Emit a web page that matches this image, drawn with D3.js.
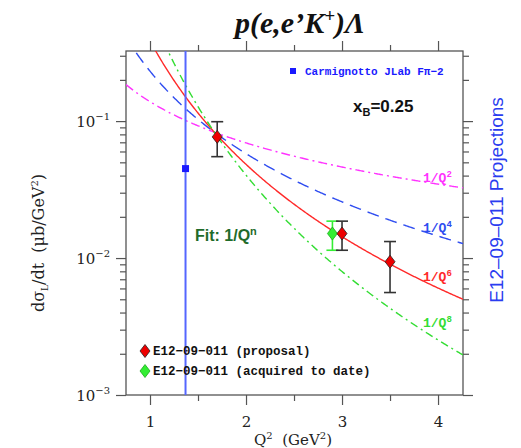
<!DOCTYPE html>
<html>
<head>
<meta charset="utf-8">
<script src="https://cdn.jsdelivr.net/npm/d3@7"></script>
<style>
  body { margin: 0; background: #fff; }
  .tick text { font-family: "DejaVu Serif", serif; font-size: 15px; fill: #222; }
  .tick line { stroke: #555; stroke-width: 1.2; }
</style>
</head>
<body>
<div class="container"></div>
<script>
// data
const proposalQ2 = [1.7, 3.0, 3.5];
const proposalXs = [0.0767, 0.0151, 0.0094];
const proposalLo = [0.0550, 0.0114, 0.0056];
const proposalHi = [0.0990, 0.0186, 0.0132];

const acquiredQ2 = [2.9];
const acquiredXs = [0.0151];
const acquiredLo = [0.0114];
const acquiredHi = [0.0186];

const carmQ2 = [1.37];
const carmXs = [0.045];

// 1/Q^n fits, normalised at a common point
const fitN = [2, 4, 6, 8];
const fitNormQ2 = 1.67;
const fitNormXs = 0.083;

const xTicks = [1, 2, 3, 4];
const xMinor = [1.5, 2.5, 3.5];
const yDecades = [1e-3, 1e-2, 1e-1];
const yMinor = [2, 3, 4, 5, 6, 7, 8, 9].map((m) => m * 1e-3)
  .concat([2, 3, 4, 5, 6, 7, 8, 9].map((m) => m * 1e-2))
  .concat([2e-1, 3e-1]);

const W = 521, H = 448;
const plot = { left: 126, right: 463, top: 51, bottom: 395 };

const svg = d3
  .select(".container")
  .append("svg")
  .attr("width", W)
  .attr("height", H);

const xScale = d3.scaleLinear().domain([0.75, 4.26]).range([plot.left, plot.right]);
const yScale = d3.scaleLog().domain([1e-3, 0.325]).range([plot.bottom, plot.top]);

svg.append("clipPath").attr("id", "clip")
  .append("rect")
  .attr("x", plot.left).attr("y", plot.top)
  .attr("width", plot.right - plot.left).attr("height", plot.bottom - plot.top);

// axes: majors + minors on all four sides, ticks pointing out
const addAxis = (axisFn, scale, vals, size, transform, labels) => {
  const ax = axisFn(scale).tickValues(vals).tickSize(size).tickPadding(8)
    .tickFormat(labels ? d3.format("d") : "");
  const g = svg.append("g").attr("transform", transform).call(ax);
  g.select(".domain").remove();
  return g;
};

addAxis(d3.axisBottom, xScale, xTicks, 10, `translate(0,${plot.bottom})`, true)
  .selectAll("text").attr("dy", "0.9em");
addAxis(d3.axisBottom, xScale, xMinor, 6, `translate(0,${plot.bottom})`, false);
addAxis(d3.axisTop, xScale, xTicks, 10, `translate(0,${plot.top})`, false);
addAxis(d3.axisTop, xScale, xMinor, 6, `translate(0,${plot.top})`, false);
addAxis(d3.axisLeft, yScale, yDecades, 10, `translate(${plot.left},0)`, false);
addAxis(d3.axisLeft, yScale, yMinor, 6, `translate(${plot.left},0)`, false);
addAxis(d3.axisRight, yScale, yDecades, 10, `translate(${plot.right},0)`, false);
addAxis(d3.axisRight, yScale, yMinor, 6, `translate(${plot.right},0)`, false);

// y decade labels 10^-n
yDecades.forEach((v) => {
  const t = svg.append("text")
    .attr("x", 110)
    .attr("y", yScale(v) + 6)
    .attr("text-anchor", "end")
    .style("font-family", "DejaVu Serif, serif")
    .style("font-size", "15px")
    .style("fill", "#222");
  t.append("tspan").text("10");
  t.append("tspan").attr("dy", -7).style("font-size", "10px")
    .text("\u2212" + Math.round(-Math.log10(v)));
});

// frame
svg.append("rect")
  .attr("x", plot.left).attr("y", plot.top)
  .attr("width", plot.right - plot.left).attr("height", plot.bottom - plot.top)
  .attr("fill", "none").attr("stroke", "#555").attr("stroke-width", 1.3);

// fit curves
const curveStyle = {
  2: { color: "#ff33ff", dash: "9,4,2,4" },
  4: { color: "#2f4df0", dash: "12,7" },
  6: { color: "#ff2a2a", dash: null },
  8: { color: "#33dd33", dash: "8,4,2,4" },
};
const qGrid = d3.range(0.75, 4.27, 0.01);
const line = d3.line().x((d) => xScale(d[0])).y((d) => yScale(d[1]));

const curves = svg.append("g").attr("clip-path", "url(#clip)");
fitN.forEach((n) => {
  const pts = qGrid.map((q) => [q, fitNormXs * Math.pow(fitNormQ2 / q, n / 2)]);
  curves.append("path")
    .datum(pts)
    .attr("d", line)
    .attr("fill", "none")
    .attr("stroke", curveStyle[n].color)
    .attr("stroke-width", 1.4)
    .attr("stroke-dasharray", curveStyle[n].dash);
});

// curve labels
const labelY = { 2: 182, 4: 232, 6: 281, 8: 327 };
fitN.forEach((n) => {
  const t = svg.append("text")
    .attr("x", 423).attr("y", labelY[n])
    .style("font-family", "Liberation Mono, monospace")
    .style("font-weight", "bold")
    .style("font-size", "13px")
    .style("fill", curveStyle[n].color);
  t.append("tspan").text("1/Q");
  t.append("tspan").attr("dy", -5).style("font-size", "9px").text(n);
});

// Carmignotto point with its (off-scale) error bar
curves.selectAll(".carm-bar")
  .data(carmQ2)
  .join("line")
  .attr("x1", (d) => xScale(d)).attr("x2", (d) => xScale(d))
  .attr("y1", plot.top).attr("y2", plot.bottom)
  .attr("stroke", "#5566ff").attr("stroke-width", 2);
svg.selectAll(".carm")
  .data(carmQ2)
  .join("rect")
  .attr("x", (d) => xScale(d) - 3.5)
  .attr("y", (d, i) => yScale(carmXs[i]) - 3.5)
  .attr("width", 7).attr("height", 7)
  .attr("fill", "#1a1aff");

const diamond = (cx, cy) =>
  `M${cx},${cy - 6.5}L${cx + 5},${cy}L${cx},${cy + 6.5}L${cx - 5},${cy}Z`;

const drawPoints = (q2, xs, lo, hi, barColor, fill) => {
  const g = svg.append("g");
  q2.forEach((q, i) => {
    const x = xScale(q);
    g.append("line")
      .attr("x1", x).attr("x2", x)
      .attr("y1", yScale(hi[i])).attr("y2", yScale(lo[i]))
      .attr("stroke", barColor).attr("stroke-width", 1.6);
    [lo[i], hi[i]].forEach((v) => {
      g.append("line")
        .attr("x1", x - 6).attr("x2", x + 6)
        .attr("y1", yScale(v)).attr("y2", yScale(v))
        .attr("stroke", barColor).attr("stroke-width", 1.6);
    });
    g.append("path")
      .attr("d", diamond(x, yScale(xs[i])))
      .attr("fill", fill)
      .attr("stroke", barColor === "#333" ? "#222" : "#1aaa1a")
      .attr("stroke-width", 0.8);
  });
};
drawPoints(acquiredQ2, acquiredXs, acquiredLo, acquiredHi, "#33ee33", "#33ee33");
drawPoints(proposalQ2, proposalXs, proposalLo, proposalHi, "#333", "#ee0000");

// legends
svg.append("rect").attr("x", 290).attr("y", 68).attr("width", 6).attr("height", 6).attr("fill", "#1a1aff");
svg.append("text")
  .attr("x", 305).attr("y", 75)
  .style("font-family", "Liberation Mono, monospace")
  .style("font-weight", "bold")
  .style("font-size", "11px")
  .style("fill", "#1a1aff")
  .text("Carmignotto JLab F\u03c0\u22122");

svg.append("path").attr("d", diamond(145, 351)).attr("fill", "#ee0000").attr("stroke", "#222").attr("stroke-width", 0.8);
svg.append("path").attr("d", diamond(145, 371)).attr("fill", "#33ee33").attr("stroke", "#1aaa1a").attr("stroke-width", 0.8);
[["E12\u221209\u2212011 (proposal)", 355], ["E12\u221209\u2212011 (acquired to date)", 375]].forEach(([s, y]) => {
  svg.append("text")
    .attr("x", 153).attr("y", y)
    .style("font-family", "Liberation Mono, monospace")
    .style("font-weight", "bold")
    .style("font-size", "12.5px")
    .style("fill", "#111")
    .text(s);
});

// x_B
const xb = svg.append("text")
  .attr("x", 353).attr("y", 112)
  .style("font-family", "Liberation Sans, Arial, sans-serif")
  .style("font-weight", "bold")
  .style("font-size", "17px")
  .style("fill", "#111");
xb.append("tspan").text("x");
xb.append("tspan").attr("dy", 4).style("font-size", "11px").text("B");
xb.append("tspan").attr("dy", -4).text("=0.25");

// fit note
const fit = svg.append("text")
  .attr("x", 195).attr("y", 241)
  .style("font-family", "Liberation Sans, Arial, sans-serif")
  .style("font-weight", "bold")
  .style("font-size", "16px")
  .style("fill", "#1f6b2a");
fit.append("tspan").text("Fit: 1/Q");
fit.append("tspan").attr("dy", -6).style("font-size", "11px").text("n");

// title
const title = svg.append("text")
  .attr("x", 300).attr("y", 33)
  .attr("text-anchor", "middle")
  .style("font-family", "Liberation Serif, Times New Roman, serif")
  .style("font-weight", "bold")
  .style("font-style", "italic")
  .style("font-size", "30px")
  .style("fill", "#111");
title.append("tspan").text("p(e,e\u2019K");
title.append("tspan").attr("dy", -11).style("font-size", "19px").text("+");
title.append("tspan").attr("dy", 11).text(")\u039b");

// axis titles
const xl = svg.append("text")
  .attr("x", 293).attr("y", 445)
  .attr("text-anchor", "middle")
  .attr("xml:space", "preserve")
  .style("font-family", "DejaVu Serif, serif")
  .style("font-size", "15px")
  .style("fill", "#222");
xl.append("tspan").text("Q");
xl.append("tspan").attr("dy", -6).style("font-size", "10px").text("2");
xl.append("tspan").attr("dy", 6).text("  (GeV");
xl.append("tspan").attr("dy", -6).style("font-size", "10px").text("2");
xl.append("tspan").attr("dy", 6).text(")");

const yl = svg.append("text")
  .attr("transform", "translate(44,243) rotate(-90)")
  .attr("text-anchor", "middle")
  .attr("xml:space", "preserve")
  .style("font-family", "DejaVu Serif, serif")
  .style("font-size", "16px")
  .style("fill", "#222");
yl.append("tspan").text("d\u03c3");
yl.append("tspan").attr("dy", 4).style("font-size", "9px").text("L");
yl.append("tspan").attr("dy", -4).text("/dt  (\u03bcb/GeV");
yl.append("tspan").attr("dy", -6).style("font-size", "10px").text("2");
yl.append("tspan").attr("dy", 6).text(")");

svg.append("text")
  .attr("transform", "translate(503,200) rotate(-90)")
  .attr("text-anchor", "middle")
  .style("font-family", "Liberation Sans, Arial, sans-serif")
  .style("font-size", "19px")
  .style("fill", "#2a3cf0")
  .text("E12\u201309\u2013011 Projections");
</script>
</body>
</html>
